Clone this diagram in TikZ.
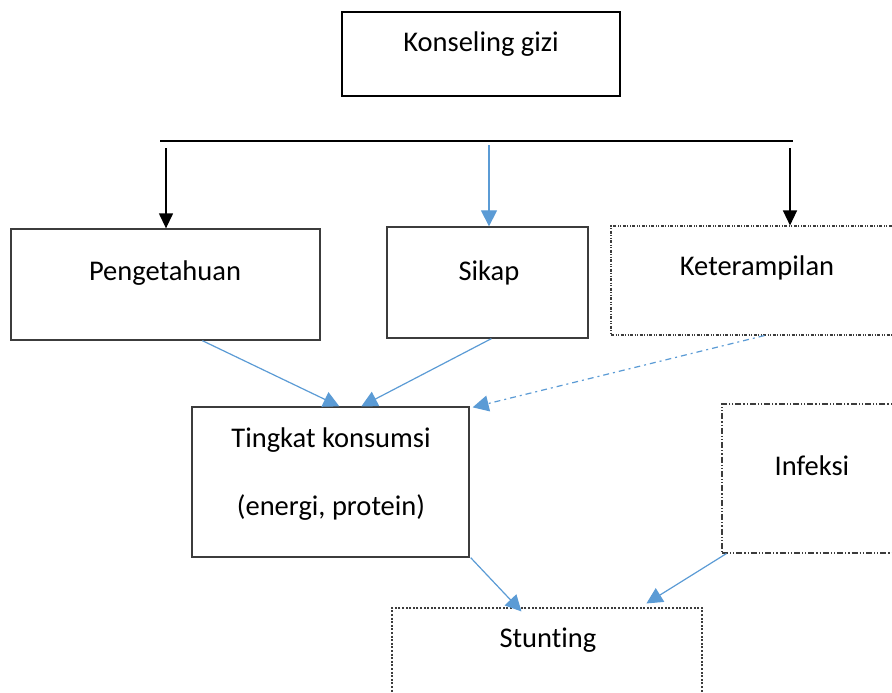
\documentclass[tikz,border=0pt]{standalone}
\usepackage{fontspec}
\setmainfont{Carlito}[Ligatures={NoCommon}]
\usetikzlibrary{arrows.meta,calc}
\definecolor{arrblue}{RGB}{91,155,213}
\definecolor{boxgray}{RGB}{60,60,60}
\tikzset{
  txt/.style={font=\fontsize{28.5}{34}\selectfont, anchor=base, inner sep=0pt},
  boxnode/.style={draw=boxgray, line width=1.3pt, inner sep=0pt, rectangle},
  kbox/.style={draw=black, line width=2.4pt, inner sep=0pt, rectangle},
  dashdotbox/.style={draw=boxgray, line width=1.1pt, inner sep=0pt, rectangle,
    dash pattern=on 3pt off 1.5pt on 1pt off 1.5pt on 1pt off 1.5pt},
  dashdotbox2/.style={draw=boxgray, line width=1.1pt, inner sep=0pt, rectangle,
    dash pattern=on 6pt off 2pt on 1.2pt off 2pt on 1.2pt off 2pt},
  dotbox/.style={draw=boxgray, line width=1.1pt, inner sep=0pt, rectangle,
    dash pattern=on 2pt off 1.6pt},
  blackarr/.style={draw=black, line width=1.3pt, -{Triangle[width=14pt,length=15pt]}},
  bluearr/.style={draw=arrblue, line width=1.2pt, -{Triangle[width=16pt,length=16pt]}},
}
\begin{document}
\begin{tikzpicture}[x=1pt,y=1pt]
\useasboundingbox (0,0) rectangle (892,-693);
% boxes
\node[kbox, minimum width=278pt, minimum height=84pt] (kons) at (481,-54) {};
\node[boxnode, minimum width=309pt, minimum height=111pt] (peng) at (165.5,-284.5) {};
\node[boxnode, minimum width=201pt, minimum height=111pt] (sikap) at (487.5,-282.5) {};
\node[dashdotbox, minimum width=290pt, minimum height=109pt] (ket) at (756,-280.5) {};
\node[boxnode, minimum width=277pt, minimum height=150pt] (ting) at (330.5,-482) {};
\node[dashdotbox2, minimum width=180pt, minimum height=149pt] (inf) at (812,-478.5) {};
\node[dotbox, minimum width=310pt, minimum height=94pt] (stun) at (547,-655) {};
% texts
\node[txt] (tkons) at (481,-52) {Konseling gizi};
\node[txt] (tpeng) at (165,-280) {Pengetahuan};
\node[txt] (tsikap) at (489,-280) {Sikap};
\node[txt] (tket) at (757,-275) {Keterampilan};
\node[txt] (tting1) at (331,-447) {Tingkat konsumsi};
\node[txt] (tting2) at (331,-515) {(energi, protein)};
\node[txt] (tinf) at (812,-475) {Infeksi};
\node[txt] (tstun) at (548,-647) {Stunting};
% horizontal line and drops
\coordinate (hl) at (160,-141);
\coordinate (hr) at (793,-141);
\draw[black, line width=1.3pt] (hl) -- (hr);
\coordinate (d1) at (166,-148);
\coordinate (d2) at (489,-145);
\coordinate (d3) at (790,-148);
\draw[blackarr] (d1) -- (d1 |- peng.north);
\draw[bluearr] (d2) -- (d2 |- sikap.north);
\draw[blackarr] (d3) -- (d3 |- ket.north);
% blue connectors
\draw[bluearr] ($(peng.south west)+(192,0)$) -- ($(ting.north west)+(148,0)$);
\draw[bluearr] ($(sikap.south west)+(105,0)$) -- ($(ting.north west)+(170,0)$);
\draw[bluearr, dash pattern=on 6pt off 4pt on 2pt off 4pt] ($(ket.south west)+(154,0)$) -- ($(ting.north east)+(3,-1)$);
\draw[bluearr] ($(ting.south east)+(1,0)$) -- ($(stun.north west)+(130,-4)$);
\draw[bluearr] ($(inf.south west)+(5,0)$) -- ($(stun.north west)+(255,4)$);
\end{tikzpicture}
\end{document}
